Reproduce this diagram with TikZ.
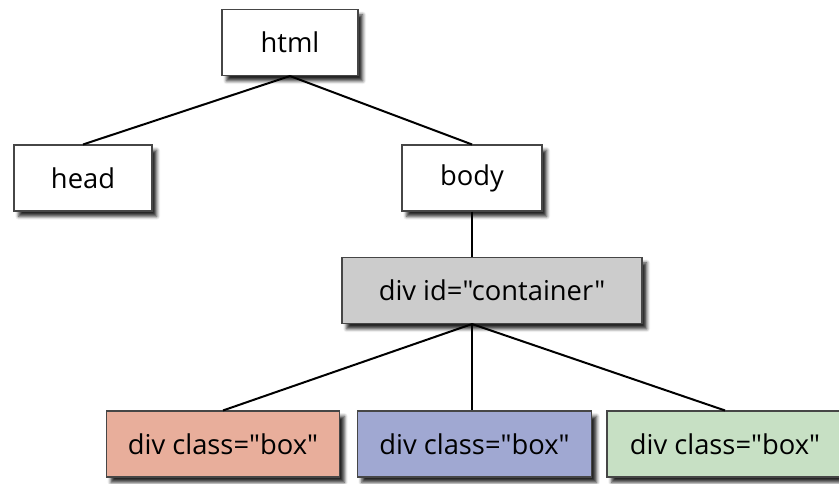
\documentclass[tikz,border=0pt]{standalone}
\usepackage{fontspec}
\setmainfont[Ligatures=TeXOff]{Open Sans}
\usetikzlibrary{shadows.blur,calc}
\definecolor{redbox}{RGB}{232,174,155}
\definecolor{bluebox}{RGB}{160,168,210}
\definecolor{greenbox}{RGB}{199,224,196}
\definecolor{graybox}{RGB}{204,204,204}
\definecolor{edge}{RGB}{70,70,70}
\begin{document}
\begin{tikzpicture}[x=0.75pt,y=-0.75pt,
  treebox/.style={draw=edge, line width=0.8pt, fill=white, inner sep=0pt,
    minimum height=49.5pt, font=\fontsize{20.5}{24}\selectfont,
    blur shadow={shadow xshift=3.5pt, shadow yshift=-4pt, shadow blur radius=2.5pt, shadow opacity=85}},
  link/.style={line width=1.5pt, black}]
\useasboundingbox (0,0) rectangle (839,483);
\node[treebox, minimum width=102pt] (html) at (290,42.5) {html};
\node[treebox, minimum width=103.5pt] (head) at (83,178) {head};
\node[treebox, minimum width=105pt] (body) at (472,178) {body};
\node[treebox, fill=graybox, minimum width=225pt] (container) at (492,290.5) {div id="container"};
\node[treebox, fill=redbox, minimum width=175pt] (red) at (223,444) {div class="box"};
\node[treebox, fill=bluebox, minimum width=176pt] (blue) at (474.5,444) {div class="box"};
\node[treebox, fill=greenbox, minimum width=177pt] (green) at (725,444) {div class="box"};
\coordinate (cb) at (body.south |- container.south);
\draw[link] (html.south) -- (head.north);
\draw[link] (html.south) -- (body.north);
\draw[link] (body.south) -- (container.north -| body.south);
\draw[link] (cb) -- (red.north);
\draw[link] (cb) -- (cb |- blue.north);
\draw[link] (cb) -- (green.north);
\end{tikzpicture}
\end{document}
